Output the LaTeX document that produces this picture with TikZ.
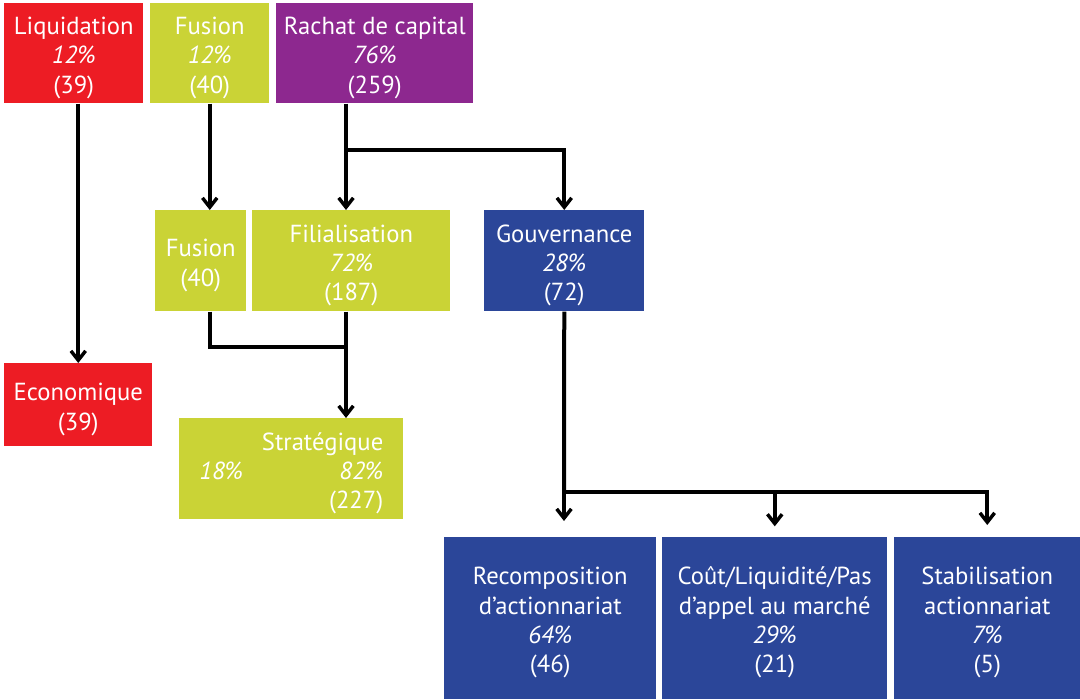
\documentclass[tikz,border=0pt]{standalone}
\usepackage{fontspec}
\setmainfont{PT Sans}
\usetikzlibrary{arrows.meta}

\definecolor{rouge}{HTML}{ED1C24}
\definecolor{anis}{HTML}{CAD336}
\definecolor{violet}{HTML}{8D288F}
\definecolor{bleu}{HTML}{2B4699}
\newlength\pxl
\setlength\pxl{0.75pt}
\newcommand\decal{\rule{0pt}{20pt}}

\begin{document}
\begin{tikzpicture}[x=0.75pt, y=-0.75pt,
  boite/.style={text=white, font=\fontsize{18.5}{22}\selectfont, align=center,
    inner sep=0pt, anchor=north west},
  trait/.style={line width=3pt},
  fleche/.style={trait, -{Straight Barb[length=7pt,width=11pt,line width=2.6pt]}}]
 \useasboundingbox (0,0) rectangle (1080,699);
 % premier niveau
 \node (liq) [boite, fill=rouge, minimum width=139*\pxl, minimum height=100*\pxl] at (4,3) {\decal Liquidation\\\textit{12\%}\\(39)};
 \node (fus) [boite, fill=anis, minimum width=119*\pxl, minimum height=100*\pxl] at (150,3) {\decal Fusion\\\textit{12\%}\\(40)};
 \node (rachat) [boite, fill=violet, minimum width=197*\pxl, minimum height=100*\pxl] at (276,3) {\decal Rachat de capital\\\textit{76\%}\\(259)};
 % deuxieme niveau
 \node (fus2) [boite, fill=anis, minimum width=91*\pxl, minimum height=101*\pxl] at (155,210) {\decal Fusion\\(40)};
 \node (filial) [boite, fill=anis, minimum width=198*\pxl, minimum height=101*\pxl] at (252,210) {\decal Filialisation\\\textit{72\%}\\(187)};
 \node (gouv) [boite, fill=bleu, minimum width=160*\pxl, minimum height=101*\pxl] at (484,210) {\decal Gouvernance\\\textit{28\%}\\(72)};
 % troisieme niveau
 \node (eco) [boite, fill=rouge, minimum width=148*\pxl, minimum height=83*\pxl] at (4,363) {\decal Economique\\(39)};
 \node (strat) [boite, fill=anis, minimum width=224*\pxl, minimum height=101*\pxl, text width=184*\pxl, align=left] at (179,418)
   {\decal\hfill Stratégique\\\textit{18\%}\hfill\textit{82\%}\\\hfill(227)};
 \node (recomp) [boite, fill=bleu, minimum width=212*\pxl, minimum height=162*\pxl] at (444,537) {\decal Recomposition\\d’actionnariat\\\textit{64\%}\\(46)};
 \node (cout) [boite, fill=bleu, minimum width=225*\pxl, minimum height=162*\pxl] at (662,537) {\decal Coût/Liquidité/Pas\\d’appel au marché\\\textit{29\%}\\(21)};
 \node (stab) [boite, fill=bleu, minimum width=186*\pxl, minimum height=162*\pxl] at (894,537) {\decal Stabilisation\\actionnariat\\\textit{7\%}\\(5)};

 \coordinate (split) at (346,150);
 \coordinate (merge) at (346,347);
 \coordinate (bus) at (564,492);

 \draw[fleche] (liq.south -| eco.north) -- (eco.north);
 \draw[fleche] (fus.south) -- (fus.south |- fus2.north);
 \draw[trait] (rachat.south -| split) -- (split);
 \draw[fleche] (split) -- (split |- filial.north);
 \draw[fleche] (split) -| (gouv.north);
 \draw[trait] (fus.south |- fus2.south) |- (merge);
 \draw[fleche] (split |- filial.south) -- (split |- strat.north);
 \draw[trait] (gouv.south) -- (bus);
 \draw[fleche, shorten >=12pt] (bus) -- (bus |- recomp.north);
 \draw[fleche, shorten >=9pt] (bus) -| (stab.north);
 \draw[fleche, shorten >=8pt] (bus -| cout.north) -- (cout.north);
\end{tikzpicture}
\end{document}
